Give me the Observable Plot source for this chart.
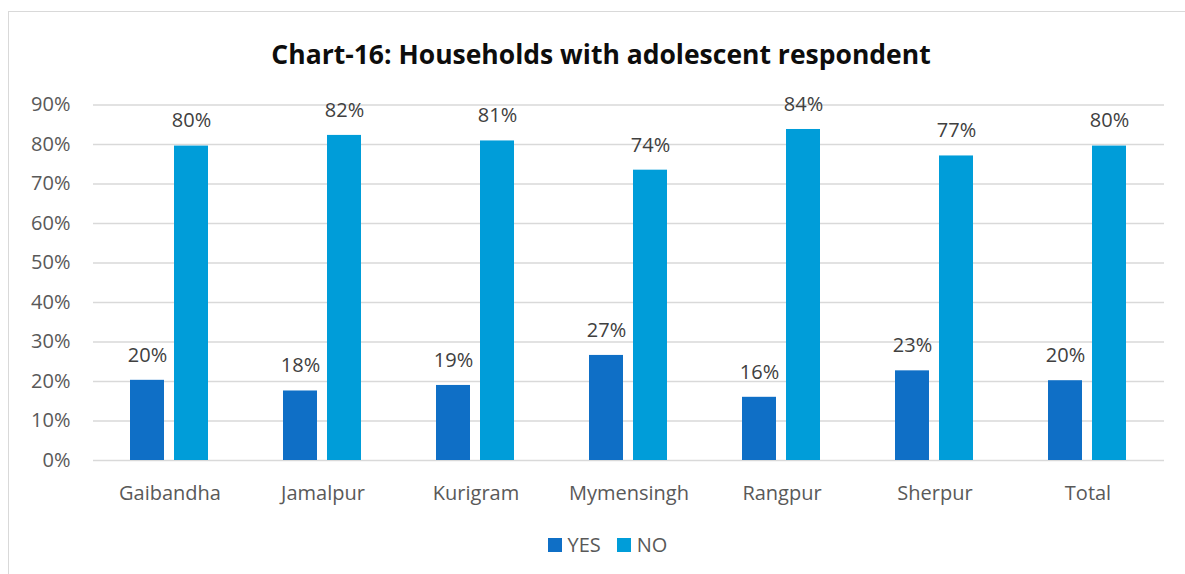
<!DOCTYPE html>
<html>
<head>
<meta charset="utf-8">
<script src="https://cdn.jsdelivr.net/npm/d3@7"></script>
<script src="https://cdn.jsdelivr.net/npm/@observablehq/plot@0.6"></script>
<style>
  html, body { margin: 0; padding: 0; background: #fff; overflow: hidden; }
  body { width: 1185px; height: 574px; position: relative; font-family: "Open Sans", sans-serif; }
  #frame { position: absolute; left: 8px; top: 11px; width: 1200px; height: 620px; border: 1.5px solid #d9d9d9; box-sizing: border-box; }
  #title { position: absolute; left: 16px; top: 37px; width: 1170px; text-align: center; font-size: 26.5px; font-weight: 700; color: #0d0d0d; line-height: 34px; }
  #chart { position: absolute; left: -2px; top: 80px; }
  #legend { position: absolute; top: 532px; left: 15px; width: 1185px; display: flex; justify-content: center; gap: 16px; font-size: 20px; color: #595959; line-height: 26px; }
  .item { display: flex; align-items: center; gap: 6px; }
  .sw { width: 14px; height: 14px; display: inline-block; }
</style>
</head>
<body>
<div id="frame"></div>
<div id="title">Chart-16: Households with adolescent respondent</div>
<div id="chart"></div>
<div id="legend"></div>
<script>
const categories = ["Gaibandha", "Jamalpur", "Kurigram", "Mymensingh", "Rangpur", "Sherpur", "Total"];
const seriesNames = ["YES", "NO"];
const seriesColors = ["#0F6FC6", "#009DD9"];
const yesValues = [20.3, 17.6, 19.0, 26.6, 16.0, 22.7, 20.2];
const noValues = [79.6, 82.3, 80.9, 73.5, 83.8, 77.1, 79.6];
const yTicks = [0, 10, 20, 30, 40, 50, 60, 70, 80, 90];

const data = categories.flatMap((c, i) => [
  {cat: c, s: "YES", v: yesValues[i] / 100},
  {cat: c, s: "NO", v: noValues[i] / 100}
]);
const pct = d3.format(".0%");

const chart = Plot.plot({
  width: 1187,
  height: 430,
  marginLeft: 92,
  marginRight: 18,
  marginTop: 24.5,
  marginBottom: 50,
  style: {fontFamily: "Open Sans, sans-serif", fontSize: "20px", color: "#595959", background: "transparent"},
  fx: {domain: categories, padding: 0, label: null, axis: "bottom", tickSize: 0, tickPadding: 25},
  x: {domain: seriesNames, paddingInner: 0.225, paddingOuter: 0.84, axis: null},
  y: {domain: [0, 0.9], ticks: yTicks.map(d => d / 100), tickFormat: pct, tickSize: 0, tickPadding: 23, label: null},
  color: {domain: seriesNames, range: seriesColors},
  marks: [
    Plot.ruleY(yTicks.map(d => d / 100), {stroke: "#d9d9d9", strokeWidth: 1.5}),
    Plot.barY(data, {fx: "cat", x: "s", y: "v", fill: "s"}),
    Plot.text(data, {fx: "cat", x: "s", y: "v", text: d => pct(d.v), dy: -25, fontSize: 20, fill: "#404040"})
  ]
});
document.getElementById("chart").appendChild(chart);

const legend = document.getElementById("legend");
seriesNames.forEach((s, i) => {
  const item = document.createElement("div");
  item.className = "item";
  const sw = document.createElement("span");
  sw.className = "sw";
  sw.style.background = seriesColors[i];
  const t = document.createElement("span");
  t.textContent = s;
  item.appendChild(sw);
  item.appendChild(t);
  legend.appendChild(item);
});
</script>
</body>
</html>
